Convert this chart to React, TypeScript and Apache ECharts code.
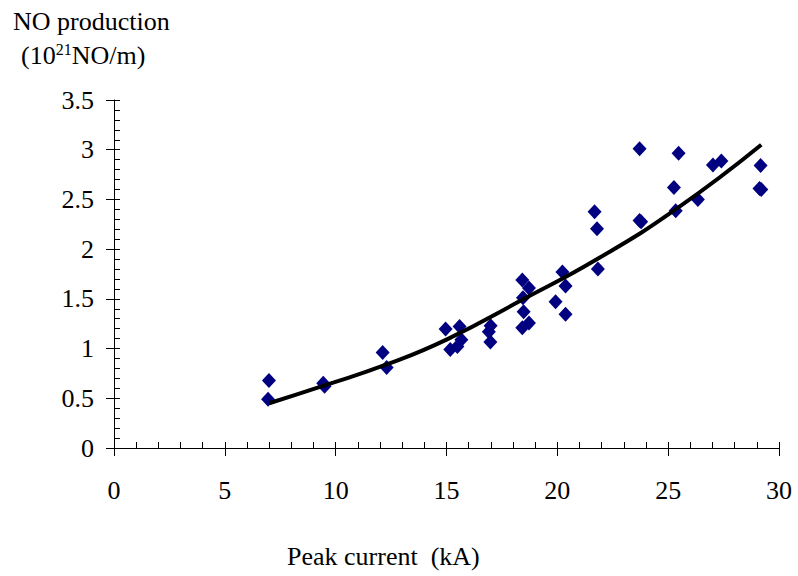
import React, { useEffect, useRef } from "react";
import * as echarts from "echarts";

// Measured data (peak current kA, NO production 10^21 NO/m)
const peakCurrent = [
  6.99, 6.95, 9.44, 9.5, 12.12, 12.3,
  14.96, 15.59, 15.67, 15.49, 15.17,
  16.99, 16.91, 16.98,
  18.42, 18.72, 18.45, 18.48, 18.42, 18.72,
  20.23, 20.37, 19.92, 20.37,
  21.83, 21.68, 21.79,
  23.71, 23.78, 23.71,
  25.47, 25.26, 25.34, 26.34,
  27.02, 27.4, 29.17, 29.12, 29.2,
];
const noProduction = [
  0.68, 0.49, 0.65, 0.62, 0.96, 0.81,
  1.196, 1.222, 1.088, 1.02, 0.99,
  1.23, 1.17, 1.065,
  1.69, 1.61, 1.51, 1.37, 1.21, 1.256,
  1.77, 1.63, 1.47, 1.345,
  1.8, 2.375, 2.204,
  3.01, 2.275, 2.287,
  2.965, 2.62, 2.385, 2.5,
  2.847, 2.887, 2.84, 2.61, 2.6,
];

// Trend line
const trendCurrent = [7, 9.5, 12.3, 15, 18.5, 21.8, 25.4, 29.2];
const trendProduction = [0.45, 0.63, 0.84, 1.09, 1.5, 1.9, 2.41, 3.05];

const xMin = 0;
const xMax = 30;
const xMajor = 5;
const xMinor = 1;
const yMin = 0;
const yMax = 3.5;
const yMajor = 0.5;
const yMinor = 0.1;

const titleLine1 = "NO production";
const xAxisTitle = "Peak current  (kA)";

const FONT = "Liberation Serif, Times New Roman, serif";

export default function App() {
  const ref = useRef<HTMLDivElement>(null);

  useEffect(() => {
    if (!ref.current) return;
    const chart = echarts.init(ref.current, undefined, { renderer: "svg" });
    const gridRect = { left: 114, right: 19, top: 100, bottom: 128 };
    const labelStyle = { fontFamily: FONT, fontSize: 26, color: "#000" };
    const scatterData = peakCurrent.map((x, i) => [x, noProduction[i]]);
    const trendData = trendCurrent.map((x, i) => [x, trendProduction[i]]);

    chart.setOption({
      animation: false,
      backgroundColor: "#fff",
      title: [
        {
          text: titleLine1,
          left: 13,
          top: 8,
          padding: 0,
          textStyle: { fontFamily: FONT, fontSize: 26, fontWeight: "normal", color: "#000" },
        },
        {
          text: "{a|(10}{s|21}{a|NO/m)}",
          left: 21,
          top: 40,
          padding: 0,
          textStyle: {
            fontWeight: "normal",
            fontFamily: FONT,
            rich: {
              a: { fontFamily: FONT, fontSize: 26, fontWeight: "normal", color: "#000", lineHeight: 30 },
              s: { fontFamily: FONT, fontSize: 16, fontWeight: "normal", color: "#000", verticalAlign: "top", lineHeight: 30, padding: [1, 0, 0, 0] },
            },
          },
        },
        {
          text: xAxisTitle,
          left: 287,
          top: 543,
          padding: 0,
          textStyle: { fontFamily: FONT, fontSize: 26, fontWeight: "normal", color: "#000" },
        },
      ],
      grid: [
        { ...gridRect, containLabel: false },
        { ...gridRect, containLabel: false },
      ],
      xAxis: [
        {
          gridIndex: 0,
          type: "value",
          min: xMin,
          max: xMax,
          interval: xMajor,
          axisLine: { show: true, onZero: false, lineStyle: { color: "#000", width: 1 } },
          axisTick: { show: true, length: 8, lineStyle: { color: "#000", width: 1 } },
          axisLabel: { ...labelStyle, margin: 29 },
          splitLine: { show: false },
        },
        {
          gridIndex: 1,
          type: "value",
          min: xMin,
          max: xMax,
          interval: xMinor,
          axisLine: { show: false },
          axisTick: { show: true, inside: true, length: 6, lineStyle: { color: "#000", width: 1 } },
          axisLabel: { show: false },
          splitLine: { show: false },
        },
      ],
      yAxis: [
        {
          gridIndex: 0,
          type: "value",
          min: yMin,
          max: yMax,
          interval: yMajor,
          axisLine: { show: true, onZero: false, lineStyle: { color: "#000", width: 1 } },
          axisTick: { show: true, length: 8, lineStyle: { color: "#000", width: 1 } },
          axisLabel: { ...labelStyle, margin: 20 },
          splitLine: { show: false },
        },
        {
          gridIndex: 1,
          type: "value",
          min: yMin,
          max: yMax,
          interval: yMinor,
          axisLine: { show: false },
          axisTick: { show: true, inside: true, length: 6, lineStyle: { color: "#000", width: 1 } },
          axisLabel: { show: false },
          splitLine: { show: false },
        },
      ],
      series: [
        {
          type: "scatter",
          xAxisIndex: 0,
          yAxisIndex: 0,
          symbol: "diamond",
          symbolSize: [14, 15],
          itemStyle: { color: "#000080", opacity: 1 },
          data: scatterData,
          z: 2,
        },
        {
          type: "line",
          xAxisIndex: 0,
          yAxisIndex: 0,
          data: trendData,
          smooth: true,
          showSymbol: false,
          symbol: "none",
          lineStyle: { color: "#000", width: 4 },
          z: 3,
        },
      ],
    });
    return () => chart.dispose();
  }, []);

  return (
    <div
      ref={ref}
      style={{ position: "fixed", left: 0, top: 0, width: 798, height: 576 }}
    />
  );
}
